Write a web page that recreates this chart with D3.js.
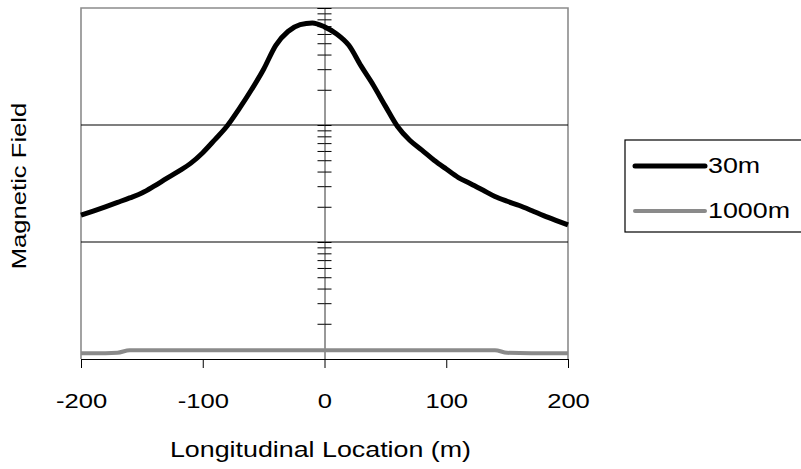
<!DOCTYPE html>
<html>
<head>
<meta charset="utf-8">
<script src="https://cdn.jsdelivr.net/npm/d3@7"></script>
<style>
  body { margin: 0; background: #fff; }
  svg { display: block; font-family: "Liberation Sans", Arial, sans-serif; }
</style>
</head>
<body>
<svg id="chart" width="801" height="469"></svg>
<script>
// longitudinal positions (m)
const locations = [-200, -190, -180, -170, -160, -150, -140, -130, -120, -110, -100, -90, -80, -70, -60, -50, -40, -30, -20, -10,
    0, 10, 20, 30, 40, 50, 60, 70, 80, 90, 100, 110, 120, 130, 140, 150, 160, 170, 180, 190, 200]
// field at 30m depth (arbitrary units, log axis)
const field30 = [17.0, 18.4, 20.0, 21.8, 23.8, 26.2, 30.0, 34.8, 40.2, 47.0, 58, 75, 98, 138, 200, 300, 480, 630, 720, 745,
    690, 600, 480, 320, 220, 145, 97, 74, 61, 50, 42, 35.5, 31.5, 27.8, 24.5, 22.3, 20.5, 18.6, 16.8, 15.3, 14.0]
// field at 1000m depth
const locations1000 = [-200, -180, -170, -160, -120, -60, 0, 60, 120, 140, 150, 170, 200]
const field1000 = [1.12, 1.12, 1.13, 1.19, 1.19, 1.19, 1.19, 1.19, 1.19, 1.19, 1.13, 1.12, 1.12]

const xTicks = [-200, -100, 0, 100, 200]
const gridValues = [10, 100]
const seriesNames = ['30m', '1000m']

const svg = d3.select('#chart')
const DIM = { left: 81, right: 568, top: 8, bottom: 359 }
const STRETCH = 1.22   // the scanned font is wide

const x = d3.scaleLinear().domain([-200, 200]).range([DIM.left, DIM.right])
const y = d3.scaleLog().domain([1, 1000]).range([DIM.bottom, DIM.top])

// frame (grey, top / left / right)
svg.append('path')
    .attr('d', `M${DIM.left},${DIM.bottom} V${DIM.top} H${DIM.right} V${DIM.bottom}`)
    .attr('fill', 'none')
    .attr('stroke', '#8c8c8c')
    .attr('stroke-width', 1.6)

// horizontal grid lines
svg.selectAll('.grid')
    .data(gridValues)
    .join('line')
    .attr('class', 'grid')
    .attr('x1', DIM.left).attr('x2', DIM.right)
    .attr('y1', d => y(d)).attr('y2', d => y(d))
    .attr('stroke', '#000')
    .attr('stroke-width', 1.2)

// vertical value axis crossing at x = 0, ticks on both sides
const yAxisLeft = d3.axisLeft(y).tickSize(7).tickFormat('')
const yAxisRight = d3.axisRight(y).tickSize(7).tickFormat('')
svg.append('g')
    .attr('transform', `translate(${x(0)},0)`)
    .call(yAxisLeft)
    .call(g => g.select('.domain').attr('stroke', '#333'))
svg.append('g')
    .attr('transform', `translate(${x(0)},0)`)
    .call(yAxisRight)
    .call(g => g.select('.domain').remove())

// x axis
const xAxis = d3.axisBottom(x)
    .tickValues(xTicks)
    .tickFormat(d => String(d))
    .tickSize(9)
    .tickSizeOuter(0)
svg.append('g')
    .attr('transform', `translate(0,${DIM.bottom})`)
    .call(xAxis)
    .call(g => g.select('.domain').attr('stroke-width', 1.2))
    .call(g => g.selectAll('text')
        .attr('y', 49).attr('dy', 0)
        .attr('font-size', 21)
        .attr('fill', '#000')
        .attr('font-family', '"Liberation Sans", Arial, sans-serif')
        .attr('transform', `scale(${STRETCH},1)`))

// lines
const line = d3.line()
    .x(d => x(d[0]))
    .y(d => y(d[1]))
    .curve(d3.curveMonotoneX)

svg.append('path')
    .datum(d3.zip(locations1000, field1000))
    .attr('d', line)
    .attr('fill', 'none')
    .attr('stroke', '#8a8a8a')
    .attr('stroke-width', 4)

svg.append('path')
    .datum(d3.zip(locations, field30))
    .attr('d', line)
    .attr('fill', 'none')
    .attr('stroke', '#000')
    .attr('stroke-width', 5)
    .attr('stroke-linejoin', 'round')

// axis titles
svg.append('text')
    .attr('transform', `translate(${(DIM.left + DIM.right) / 2 - 4},457) scale(${STRETCH},1)`)
    .attr('text-anchor', 'middle')
    .attr('font-size', 22)
    .text('Longitudinal Location (m)')

svg.append('text')
    .attr('transform', `translate(26,186) rotate(-90) scale(1.28,1)`)
    .attr('text-anchor', 'middle')
    .attr('font-size', 20)
    .text('Magnetic Field')

// legend (box runs off the right edge)
const legend = svg.append('g').attr('transform', 'translate(625,140)')
legend.append('rect')
    .attr('width', 260).attr('height', 92)
    .attr('fill', '#fff')
    .attr('stroke', '#000')
    .attr('stroke-width', 1.2)

const legendStyle = [
    { color: '#000', width: 5 },
    { color: '#8a8a8a', width: 4 }
]
const items = legend.selectAll('.item')
    .data(seriesNames)
    .join('g')
    .attr('class', 'item')
    .attr('transform', (d, i) => `translate(0,${26 + i * 45})`)
items.append('line')
    .attr('x1', 10).attr('x2', 80)
    .attr('stroke', (d, i) => legendStyle[i].color)
    .attr('stroke-width', (d, i) => legendStyle[i].width)
    .attr('stroke-linecap', 'round')
items.append('text')
    .attr('transform', `translate(83,7) scale(${STRETCH},1)`)
    .attr('font-size', 22)
    .text(d => d)
</script>
</body>
</html>
